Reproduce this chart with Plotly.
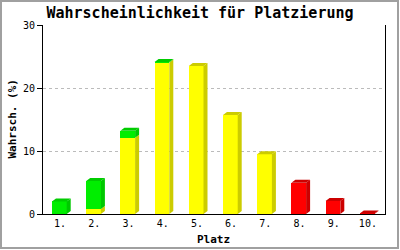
import plotly.graph_objects as go

places = ["1.", "2.", "3.", "4.", "5.", "6.", "7.", "8.", "9.", "10."]
yellow_vals = [0, 0.8, 12.1, 24.05, 23.5, 15.7, 9.47, 0, 0, 0]
green_vals = [2.0, 4.45, 1.1, 0.06, 0, 0, 0, 0, 0, 0]
red_vals = [0, 0, 0, 0, 0, 0, 0, 4.97, 2.06, 0.06]
y_ticks = [0, 10, 20, 30]

# style
W, H = 400, 250
L, R, T, B = 43, 15, 25, 36
plot_w = W - L - R
plot_h = H - T - B
ymax = 30
cat_px = plot_w / len(places)
bar_w = 0.43
bar_off = -0.237
dx = 4 / cat_px
dy = 3 / (plot_h / ymax)

series = [
    ("yellow", yellow_vals, "#FFFF00", "#CCCC00"),
    ("green", green_vals, "#00EE00", "#00C800"),
    ("red", red_vals, "#FF0000", "#CC0000"),
]

xs = list(range(len(places)))
fig = go.Figure()

# front faces
for name, vals, front, dark in series:
    fig.add_trace(go.Bar(x=xs, y=vals, width=bar_w, offset=bar_off,
                         marker=dict(color=front, line=dict(width=0)),
                         hoverinfo="skip", showlegend=False, name=name))

# side + top faces
totals = [0.0] * len(places)
tops = []
for name, vals, front, dark in series:
    sx, sy = [], []
    for i, v in enumerate(vals):
        if v <= 0:
            continue
        y0 = totals[i]
        y1 = y0 + v
        x1 = i + bar_off + bar_w
        sx += [x1, x1 + dx, x1 + dx, x1, x1, None]
        sy += [y0, y0 + dy, y1 + dy, y1, y0, None]
        totals[i] = y1
    fig.add_trace(go.Scatter(x=sx, y=sy, mode="none", fill="toself",
                             fillcolor=dark, hoverinfo="skip", showlegend=False))

# top faces: colour of the topmost segment
for name, vals, front, dark in series:
    tx, ty = [], []
    for i, v in enumerate(vals):
        if v <= 0:
            continue
        later = [s[1][i] for s in series[[n for n, *_ in series].index(name) + 1:]]
        if any(l > 0 for l in later):
            continue
        y1 = totals[i]
        x0 = i + bar_off
        x1 = x0 + bar_w
        tx += [x0, x0 + dx, x1 + dx, x1, x0, None]
        ty += [y1, y1 + dy, y1 + dy, y1, y1, None]
    fig.add_trace(go.Scatter(x=tx, y=ty, mode="none", fill="toself",
                             fillcolor=dark if name != "green" else "#00CC00",
                             hoverinfo="skip", showlegend=False))

mono = "DejaVu Sans Mono"

fig.update_layout(
    width=W, height=H,
    margin=dict(l=L, r=R, t=T, b=B),
    paper_bgcolor="white", plot_bgcolor="white",
    barmode="stack",
    title=dict(text="<b>Wahrscheinlichkeit für Platzierung</b>",
               x=0.5, xref="container", xanchor="center",
               y=1 - 12.5 / H, yref="container", yanchor="middle",
               font=dict(family=mono, size=15, color="black")),
    xaxis=dict(range=[-0.5, len(places) - 0.5], tickmode="array",
               tickvals=xs, ticktext=places, showgrid=False, zeroline=False,
               showline=True, linecolor="black", linewidth=1, ticks="",
               tickfont=dict(family=mono, size=10, color="black"),
               fixedrange=True),
    yaxis=dict(range=[0, ymax], tickmode="array", tickvals=y_ticks,
               showgrid=True, gridcolor="#BBBBBB", griddash="dot", gridwidth=1,
               zeroline=False, showline=True, linecolor="black", linewidth=1,
               mirror=True, ticks="outside", ticklen=5, tickcolor="black",
               tickfont=dict(family=mono, size=10, color="black"),
               fixedrange=True),
    annotations=[
        dict(text="<b>Platz</b>", xref="paper", yref="paper",
             x=(213.5 - L) / plot_w, y=(T + plot_h - 239) / plot_h,
             xanchor="center", yanchor="middle", showarrow=False,
             font=dict(family=mono, size=11, color="black")),
        dict(text="<b>Wahrsch. (%)</b>", xref="paper", yref="paper",
             x=(12 - L) / plot_w, y=0.5, textangle=-90,
             xanchor="center", yanchor="middle", showarrow=False,
             font=dict(family=mono, size=11, color="black")),
    ],
    shapes=[
        dict(type="rect", xref="paper", yref="paper",
             x0=(1 - L) / plot_w, x1=(398 - L) / plot_w,
             y0=(T + plot_h - 248) / plot_h, y1=(T + plot_h - 1) / plot_h,
             line=dict(color="#A0A0A0", width=2), fillcolor="rgba(0,0,0,0)"),
    ],
)

fig.write_html("out.html", config={"displayModeBar": False})
